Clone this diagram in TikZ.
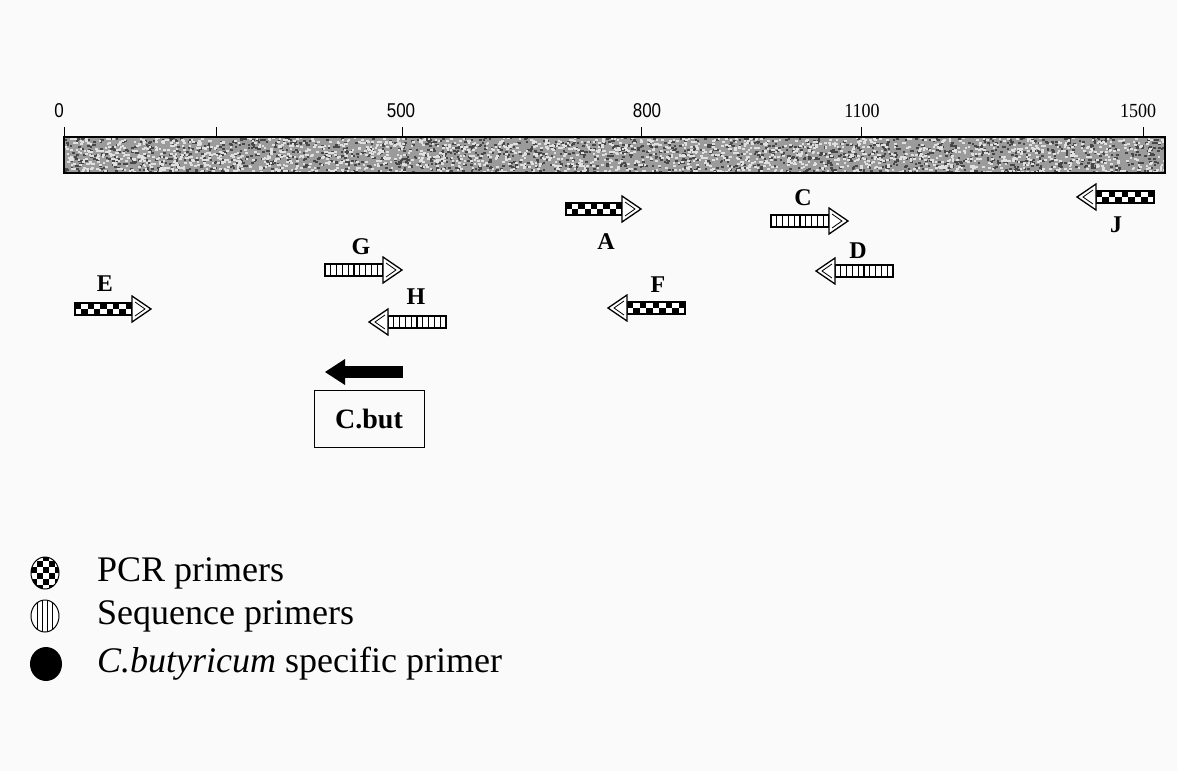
\documentclass[tikz,border=0pt]{standalone}
\usepackage{fontspec}
\setmainfont{Liberation Serif}
\newfontfamily\numsans{Liberation Sans}
\definecolor{paper}{RGB}{250,250,250}
\definecolor{grain}{RGB}{155,155,155}

% primer arrow: #1 tail x, #2 tip x, #3 y, #4 body kind (p = checkered, s = striped)
\newcommand\primer[4]{%
  \pgfmathsetmacro\pd{ifthenelse(#2>#1,1,-1)}%
  \pgfmathsetmacro\pb{#2-19*\pd}%
  \pgfmathsetmacro\pl{min(#1,\pb)}%
  \pgfmathsetmacro\pr{max(#1,\pb)}%
  \pgfmathsetmacro\pw{(\pr-\pl)/9}%
  \ifx#4p%
    \fill[white] (\pl,#3-6) rectangle (\pr,#3+6);
    \foreach \k in {0,...,8}{%
      \pgfmathsetmacro\xa{\pl+\k*\pw}%
      \pgfmathsetmacro\xb{\xa+\pw}%
      \ifodd\k
        \fill[black] (\xa,#3) rectangle (\xb,#3+6);
      \else
        \fill[black] (\xa,#3-6) rectangle (\xb,#3);
      \fi
    }%
    \draw[line width=1.3pt] (\pl,#3-6) rectangle (\pr,#3+6);
  \else
    \pgfmathsetmacro\pw{(\pr-\pl)/10}%
    \draw[line width=1.3pt,fill=white] (\pl,#3-6) rectangle (\pr,#3+6);
    \foreach \k in {1,...,9}{%
      \draw[line width=1.1pt] (\pl+\k*\pw,#3-6) -- (\pl+\k*\pw,#3+6);
    }%
  \fi
  \draw[line width=1.3pt,fill=white,line join=miter]
    (\pb,#3-13) -- (#2,#3) -- (\pb,#3+13) -- cycle;
  \draw[line width=0.8pt,line join=miter]
    (\pb+3*\pd,#3-7) -- (#2-6*\pd,#3) -- (\pb+3*\pd,#3+7);
}

\tikzset{
  lbl/.style={font=\fontsize{24}{24}\selectfont\bfseries, inner sep=0pt},
  tick/.style={line width=1pt},
  ticklbl/.style={inner sep=0pt, font=\fontsize{20}{20}\selectfont},
  sanslbl/.style={inner sep=0pt, font=\fontsize{20}{20}\selectfont\numsans, xscale=0.85},
  legtext/.style={anchor=west, inner sep=0pt, font=\fontsize{36}{36}\selectfont},
}

\begin{document}
\begin{tikzpicture}[x=1pt,y=-1pt]
\useasboundingbox[fill=paper] (0,0) rectangle (1177,771);

% sequence bar with grainy fill
\fill[grain] (64,137) rectangle (1165,173);
\begin{scope}
  \clip (64,137) rectangle (1165,173);
  \pgfmathsetseed{11}
  \foreach \i in {1,...,1800}{%
    \pgfmathsetmacro\rx{64+1101*rnd}%
    \pgfmathsetmacro\ry{137+36*rnd}%
    \fill[black!72] (\rx,\ry) rectangle +(2.6,2);
  }
  \foreach \i in {1,...,2000}{%
    \pgfmathsetmacro\rx{64+1101*rnd}%
    \pgfmathsetmacro\ry{137+36*rnd}%
    \fill[white!88!black] (\rx,\ry) rectangle +(2.6,2);
  }
\end{scope}
\node[draw, line width=1.2pt, minimum width=1101pt, minimum height=36pt, inner sep=0pt] (bar) at (614.5,155) {};

% scale ticks and labels
\foreach \tx in {64,216,402,641,861,1143}{%
  \draw[tick] (\tx,137) -- (\tx,127);
}
\node[sanslbl] (t0) at (59,111) {0};
\node[sanslbl] (t500) at (401,111) {500};
\node[sanslbl] (t800) at (647,111) {800};
\node[ticklbl, xscale=0.9] (t1100) at (862,111) {1100};
\node[ticklbl, xscale=0.9] (t1500) at (1138,111) {1500};

% PCR primers
\primer{566}{641}{209}{p}
\primer{75}{151}{309}{p}
\primer{685}{608}{308}{p}
\primer{1154}{1077}{197}{p}
% sequence primers
\primer{771}{848}{221}{s}
\primer{893}{816}{271}{s}
\primer{325}{402}{270}{s}
\primer{446}{369}{322}{s}

\node[lbl] (lA) at (606,242) {A};
\node[lbl] (lC) at (803,198) {C};
\node[lbl] (lD) at (858,251) {D};
\node[lbl] (lE) at (105,284) {E};
\node[lbl] (lF) at (658,285) {F};
\node[lbl] (lG) at (361,247) {G};
\node[lbl] (lH) at (416,297) {H};
\node[lbl] (lJ) at (1116,225) {J};

% C. butyricum specific primer
\fill (403,366) rectangle (345,378);
\fill (345,359) -- (325,372) -- (345,385) -- cycle;
\node[draw, line width=1pt, minimum width=110pt, minimum height=57pt, inner sep=0pt,
      font=\fontsize{28}{28}\selectfont\bfseries] (cbut) at (369,419) {C.but};

% legend symbols
\begin{scope}
  \clip (45,573) ellipse (14 and 16);
  \fill[white] (30,556) rectangle (60,590);
  \foreach \i in {0,...,4}{\foreach \j in {0,...,5}{%
    \pgfmathtruncatemacro\cpar{mod(\i+\j,2)}%
    \ifnum\cpar=0 \fill (31+6*\i,555+6*\j) rectangle +(6,6); \fi
  }}
\end{scope}
\draw[line width=1pt] (45,573) ellipse (14 and 16);

\begin{scope}
  \clip (45,616) ellipse (14 and 16);
  \fill[white] (30,599) rectangle (60,633);
  \foreach \lx in {37.5,42.5,47.5,52.5}{\draw[line width=1pt] (\lx,599) -- (\lx,633);}
\end{scope}
\draw[line width=1pt] (45,616) ellipse (14 and 16);

\fill (46,664) ellipse (16 and 17);

% legend texts
\node[legtext] (leg1) at (97,573) {PCR primers};
\node[legtext] (leg2) at (97,616) {Sequence primers};
\node[legtext] (leg3) at (97,664) {\textit{C.butyricum} specific primer};
\end{tikzpicture}
\end{document}
